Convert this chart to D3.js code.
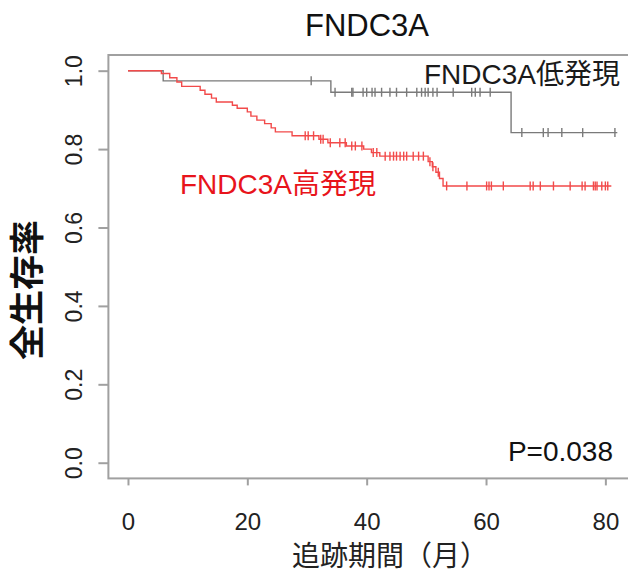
<!doctype html>
<html>
<head>
<meta charset="utf-8">
<style>
  body { margin: 0; background: #fff; }
  svg { font-family: "Liberation Sans", Arial, "Noto Sans CJK JP", sans-serif; }
  .tick text { fill: #222; }
</style>
<script src="https://d3js.org/d3.v7.min.js"></script>
</head>
<body>
<svg width="628" height="573"></svg>
<script>
// high expression group (red)
var highTimes = [5.6, 7.0, 8.2, 9.0, 12.1, 12.9, 14.0, 14.8, 17.5, 18.3, 20.0, 20.6, 21.6, 22.9, 24.0, 24.7, 27.5,
                 32.0, 33.5, 36.6, 39.5, 40.8, 42.2, 50.3, 51.0, 51.6, 52.2, 52.8];
var highSurv  = [0.993, 0.982, 0.971, 0.960, 0.950, 0.940, 0.930, 0.920, 0.912, 0.904, 0.895, 0.884, 0.874, 0.865, 0.854, 0.844, 0.834,
                 0.825, 0.816, 0.808, 0.800, 0.791, 0.782, 0.768, 0.755, 0.741, 0.725, 0.706];
var highCensor = [29.7, 30.2, 31.1, 32.3, 32.7, 33.9, 35.5, 36.4, 37.5, 38.1, 39.2, 41.1, 41.7, 43.1, 43.9, 44.5, 45.0, 45.6,
                  46.2, 46.7, 47.8, 48.7, 49.5, 50.6, 51.1, 52.0, 53.4, 56.8, 60.1, 60.5, 60.9, 62.9, 67.4, 67.9, 69.1,
                  71.3, 74.1, 76.1, 76.6, 78.0, 78.3, 78.6, 79.4, 80.0, 80.4];
var highEnd = 81;

// low expression group (gray)
var lowTimes = [5.9, 34.0, 64.2];
var lowSurv  = [0.974, 0.945, 0.842];
var lowCensor = [30.7, 34.7, 37.5, 37.7, 39.4, 40.0, 40.9, 41.4, 42.5, 43.9, 45.0, 46.7, 48.4, 49.2, 49.8, 50.3,
                 51.1, 51.8, 54.5, 57.6, 58.2, 59.0, 60.7, 66.0, 69.6, 70.4, 72.7, 76.2, 81.6];
var lowEnd = 82;

var xTicks = [0, 20, 40, 60, 80];
var yTicks = [0.0, 0.2, 0.4, 0.6, 0.8, 1.0];

var svg = d3.select("svg");

var x = d3.scaleLinear().domain([-3.28, 85.3]).range([108.4, 637]);
var y = d3.scaleLinear().domain([-0.04, 1.04]).range([478.4, 55]);

function survAt(times, surv, t) {
    var s = 1;
    for (var i = 0; i < times.length; i++) {
        if (times[i] <= t) s = surv[i];
    }
    return s;
}

function curvePoints(times, surv, end) {
    var pts = [[0, 1]];
    times.forEach(function(t, i) { pts.push([t, surv[i]]); });
    pts.push([end, surv[surv.length - 1]]);
    return pts;
}

var line = d3.line()
    .x(function(d) { return x(d[0]); })
    .y(function(d) { return y(d[1]); })
    .curve(d3.curveStepAfter);

// frame
svg.append("rect")
    .attr("x", x(-3.28)).attr("y", y(1.04))
    .attr("width", x(85.3) - x(-3.28)).attr("height", y(-0.04) - y(1.04))
    .attr("fill", "none").attr("stroke", "#a0a0a0").attr("stroke-width", 2);

// axes
var gx = svg.append("g")
    .attr("transform", "translate(0," + y(-0.04) + ")")
    .call(d3.axisBottom(x).tickValues(xTicks).tickSize(7).tickFormat(d3.format("d")));
gx.select(".domain").remove();
gx.selectAll(".tick line").attr("stroke", "#a0a0a0").attr("stroke-width", 2);
gx.selectAll(".tick text").attr("y", 35).attr("dy", "0.71em").attr("font-size", "24px");

var gy = svg.append("g")
    .attr("transform", "translate(" + x(-3.28) + ",0)")
    .call(d3.axisLeft(y).tickValues(yTicks).tickSize(10).tickFormat(d3.format(".1f")));
gy.select(".domain").remove();
gy.selectAll(".tick line").attr("stroke", "#a0a0a0").attr("stroke-width", 2);
gy.selectAll(".tick text")
    .attr("x", 0).attr("dy", "0.36em")
    .attr("text-anchor", "middle")
    .attr("transform", "translate(-35,0) rotate(-90)")
    .attr("font-size", "23px");

// curves
var groups = [
    { times: lowTimes, surv: lowSurv, censor: lowCensor, end: lowEnd, color: "#7a7a7a" },
    { times: highTimes, surv: highSurv, censor: highCensor, end: highEnd, color: "#f24a4a" }
];

groups.forEach(function(g) {
    svg.append("path")
        .datum(curvePoints(g.times, g.surv, g.end))
        .attr("fill", "none")
        .attr("stroke", g.color)
        .attr("stroke-width", 1.4)
        .attr("d", line);

    svg.append("g").selectAll("line")
        .data(g.censor)
        .enter().append("line")
        .attr("x1", function(d) { return x(d); })
        .attr("x2", function(d) { return x(d); })
        .attr("y1", function(d) { return y(survAt(g.times, g.surv, d)) - 4.5; })
        .attr("y2", function(d) { return y(survAt(g.times, g.surv, d)) + 4.5; })
        .attr("stroke", g.color)
        .attr("stroke-width", 1.4);
});

// texts
svg.append("text")
    .attr("x", 367).attr("y", 36)
    .attr("text-anchor", "middle")
    .attr("font-size", "31px")
    .attr("fill", "#111")
    .text("FNDC3A");

svg.append("text")
    .attr("x", 620).attr("y", 84)
    .attr("text-anchor", "end")
    .attr("font-size", "28px")
    .attr("fill", "#1a1a1a")
    .text("FNDC3A低発現");

svg.append("text")
    .attr("x", 180).attr("y", 194)
    .attr("font-size", "28px")
    .attr("fill", "#e8141b")
    .text("FNDC3A高発現");

svg.append("text")
    .attr("x", 613).attr("y", 461)
    .attr("text-anchor", "end")
    .attr("font-size", "28px")
    .attr("fill", "#111")
    .text("P=0.038");

svg.append("text")
    .attr("transform", "translate(40,290) rotate(-90)")
    .attr("text-anchor", "middle")
    .attr("font-size", "35px")
    .attr("font-weight", "bold")
    .attr("fill", "#111")
    .text("全生存率");

svg.append("text")
    .attr("x", 390).attr("y", 566)
    .attr("text-anchor", "middle")
    .attr("font-size", "28px")
    .attr("fill", "#222")
    .text("追跡期間（月）");
</script>
</body>
</html>
